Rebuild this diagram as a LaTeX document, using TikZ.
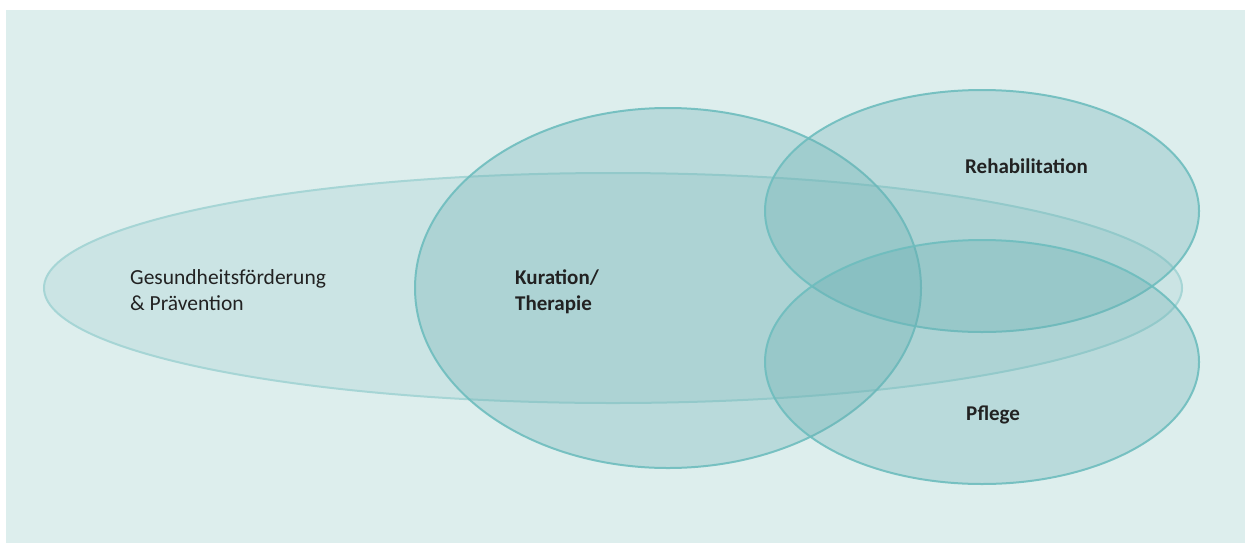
\documentclass[tikz,border=0pt]{standalone}
\usepackage{fontspec}
\setmainfont{Carlito}
\definecolor{bgc}{HTML}{DDEEED}
\definecolor{tealfill}{HTML}{68AFB2}
\definecolor{tealline}{HTML}{6EBDBE}
\definecolor{lightline}{HTML}{A6D5D5}
\definecolor{txt}{HTML}{222222}
\tikzset{
  field/.style={fill=tealfill, fill opacity=0.3, draw=tealline, draw opacity=0.9, line width=2pt},
  widefield/.style={fill=tealfill, fill opacity=0.15, draw=lightline, line width=2pt},
  lbl/.style={anchor=base west, text=txt, font=\fontsize{21.5}{26}\selectfont, inner sep=0pt, align=left},
  blbl/.style={lbl, font=\fontsize{21}{26}\selectfont\bfseries}
}
\begin{document}
\begin{tikzpicture}[x=1pt,y=-1pt]
\useasboundingbox (0,0) rectangle (1246,544);
\fill[bgc] (6,10) rectangle (1245,543);
\path[widefield] (613,288) ellipse [x radius=569, y radius=115];
\path[field] (668,288) ellipse [x radius=253, y radius=180];
\path[field] (982,211) ellipse [x radius=217, y radius=121];
\path[field] (982,362) ellipse [x radius=217, y radius=122];
\node[lbl] (gp) at (130,310) {Gesundheitsförderung\\\& Prävention};
\node[blbl] (kt) at (515,310) {Kuration/\\Therapie};
\node[blbl] (re) at (965,173) {Rehabilitation};
\node[blbl] (pf) at (966,420) {Pflege};
\end{tikzpicture}
\end{document}
